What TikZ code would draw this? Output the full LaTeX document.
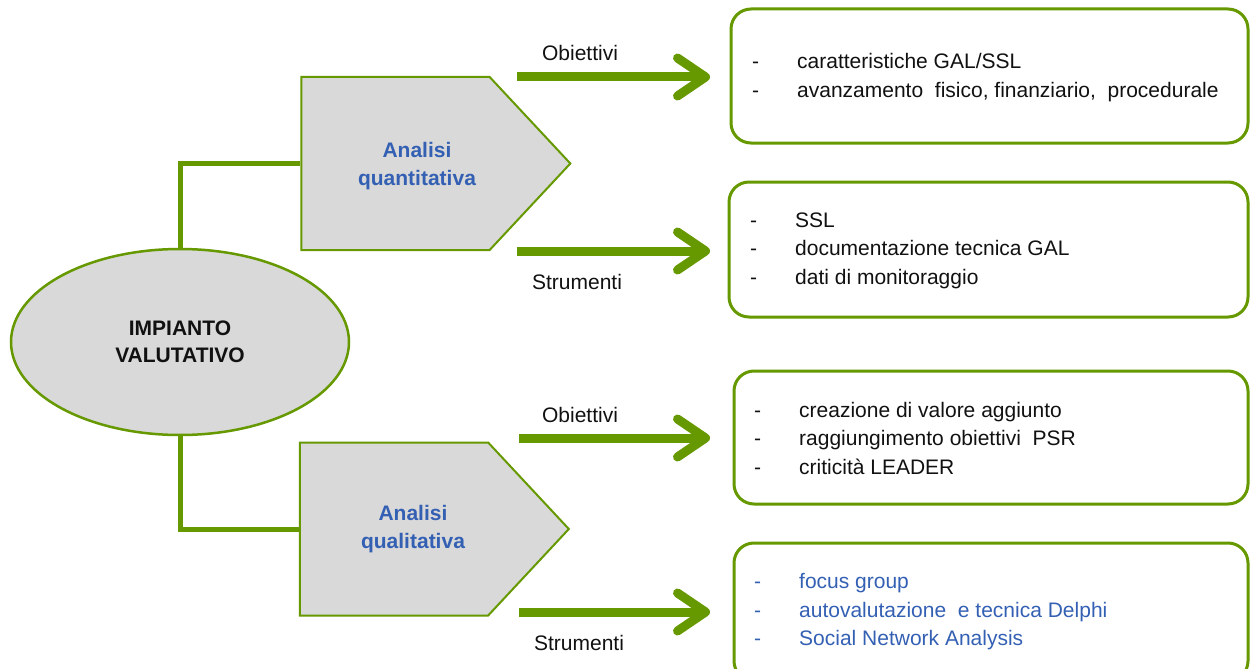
\documentclass[tikz,border=0pt]{standalone}
\usepackage{fontspec}
\setmainfont{Liberation Sans}
\usetikzlibrary{shapes.geometric,shapes.symbols,arrows.meta}
\definecolor{leafgreen}{RGB}{102,153,0}
\definecolor{panelgray}{RGB}{217,217,217}
\definecolor{titleblue}{RGB}{52,96,180}
\definecolor{inkblack}{RGB}{17,17,17}
\tikzset{
  core/.style={ellipse, draw=leafgreen, line width=2.5pt, fill=panelgray,
    minimum width=338pt, minimum height=186pt, inner sep=0pt, align=center,
    text=inkblack, font=\fontsize{21}{27}\selectfont\bfseries},
  branch/.style={signal, signal to=east, signal pointer angle=94,
    draw=leafgreen, line width=2pt, fill=panelgray,
    minimum width=269pt, minimum height=173pt, inner sep=0pt},
  branchtitle/.style={align=center, text=titleblue, inner sep=0pt,
    font=\fontsize{21}{28}\selectfont\bfseries},
  link/.style={draw=leafgreen, line width=5pt},
  flow/.style={draw=leafgreen, line width=9pt,
    -{Straight Barb[length=28pt, width=38pt, round]}},
  flowlabel/.style={text=inkblack, inner sep=0pt, font=\fontsize{21}{26}\selectfont},
  listbox/.style={draw=leafgreen, line width=3pt, rounded corners=20pt, inner sep=0pt},
  listtext/.style={anchor=west, align=left, inner sep=0pt,
    font=\fontsize{21}{28.5}\selectfont},
}
\newcommand{\itemdash}{\makebox[45pt][l]{-}}
\begin{document}
\begin{tikzpicture}[x=1pt, y=-1pt]
\useasboundingbox (0,0) rectangle (1251,669);

% central ellipse
\node[core] (imp) at (180,342) {IMPIANTO\\VALUTATIVO};

% the two analysis branches (signal centre = centre of the flat part)
\node[branch] (quant) at (395.5,163.5) {};
\node[branchtitle] (quantt) at (417,166) {Analisi\\quantitativa};
\node[branch] (qual) at (394,529) {};
\node[branchtitle] (qualt) at (413,529) {Analisi\\qualitativa};

\draw[link] (imp.north) |- (quant.west);
\draw[link] (imp.south) |- (qual.west);

% result boxes
\node[listbox, minimum width=517pt, minimum height=134pt] (box1) at (989.5,76) {};
\node[listbox, minimum width=519pt, minimum height=135pt] (box2) at (988.5,249.5) {};
\node[listbox, minimum width=514pt, minimum height=133pt] (box3) at (991,437.5) {};
\node[listbox, minimum width=514pt, minimum height=138pt] (box4) at (991,612) {};

\node[listtext, text=inkblack] (list1) at (752,77.5)
  {\itemdash caratteristiche GAL/SSL\\\itemdash avanzamento \ fisico, finanziario, \ procedurale};
\node[listtext, text=inkblack] (list2) at (750,250.5)
  {\itemdash SSL\\\itemdash documentazione tecnica GAL\\\itemdash dati di monitoraggio};
\node[listtext, text=inkblack] (list3) at (754,438)
  {\itemdash creazione di valore aggiunto\\\itemdash raggiungimento obiettivi \ PSR\\\itemdash criticit\`a LEADER};
\node[listtext, text=titleblue] (list4) at (754,612)
  {\itemdash focus group\\\itemdash autovalutazione \ e tecnica Delphi\\\itemdash Social Network Analysis};

% arrows towards the boxes
\coordinate (o1s) at (517,77);   \coordinate (o1e) at (710,77);
\coordinate (s1s) at (517,251);  \coordinate (s1e) at (710,251);
\coordinate (o2s) at (519,438);  \coordinate (o2e) at (710,438);
\coordinate (s2s) at (519,612);  \coordinate (s2e) at (710,612);
\draw[flow] (o1s) -- (o1e);
\draw[flow] (s1s) -- (s1e);
\draw[flow] (o2s) -- (o2e);
\draw[flow] (s2s) -- (s2e);

\node[flowlabel] (lo1) at (580,53) {Obiettivi};
\node[flowlabel] (ls1) at (577,282) {Strumenti};
\node[flowlabel] (lo2) at (580,415) {Obiettivi};
\node[flowlabel] (ls2) at (579,643) {Strumenti};
\end{tikzpicture}
\end{document}
